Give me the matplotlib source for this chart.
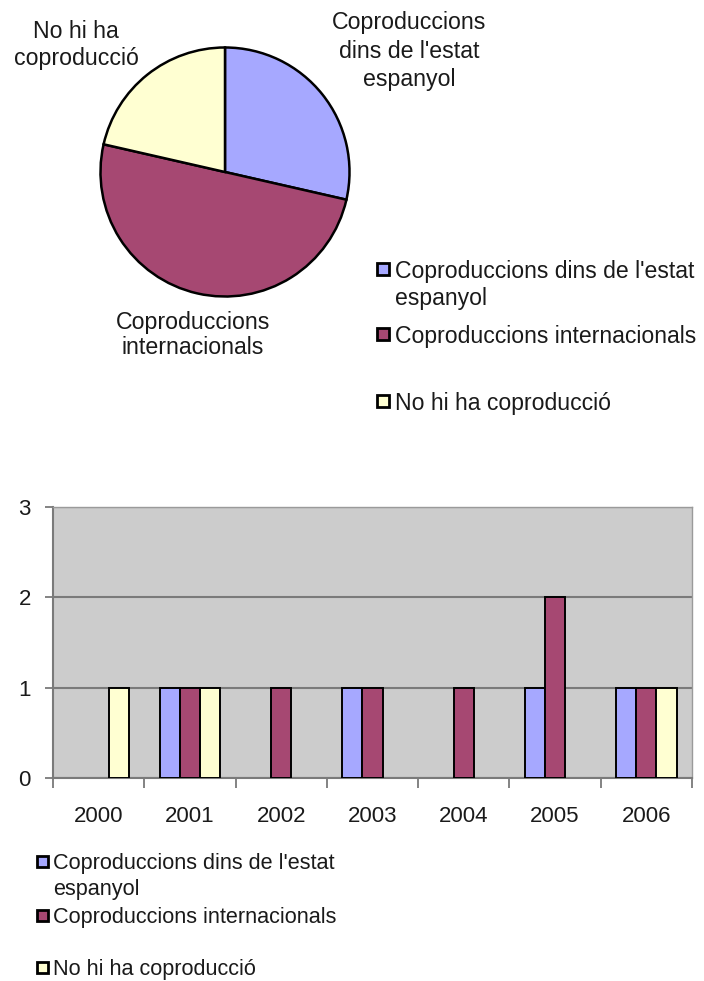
import matplotlib
matplotlib.use("Agg")
import matplotlib.pyplot as plt
from matplotlib.patches import Rectangle
import numpy as np

plt.rcParams['font.family'] = ['Liberation Sans', 'DejaVu Sans']

series = ["Coproduccions dins de l'estat\nespanyol", "Coproduccions internacionals", "No hi ha coproducció"]
pie_labels = ["Coproduccions\ndins de l'estat\nespanyol", "Coproduccions\ninternacionals", "No hi ha\ncoproducció"]
years = ["2000", "2001", "2002", "2003", "2004", "2005", "2006"]
estat = [0, 1, 0, 1, 0, 1, 1]
internacionals = [0, 1, 1, 1, 1, 2, 1]
no_coprod = [1, 1, 0, 0, 0, 0, 1]
yticks = [0, 1, 2, 3]
colors = ['#A6A8FF', '#A64872', '#FFFFD2']

W, H = 704, 981
fig = plt.figure(figsize=(W / 100, H / 100), dpi=100)
fig.patch.set_facecolor('white')
txtc = '#1a1a1a'

def fx(px):
    return px / W

def fy(py):
    return 1 - py / H

# ---------------- pie ----------------
totals = [sum(estat), sum(internacionals), sum(no_coprod)]
cx, cy, r = 225, 172, 127
axp = fig.add_axes([fx(cx - r), fy(cy + r), 2 * r / W, 2 * r / H])
axp.pie(totals, colors=colors, startangle=90, counterclock=False,
        wedgeprops=dict(edgecolor='black', linewidth=1.8))
axp.set_xlim(-1.02, 1.02)
axp.set_ylim(-1.02, 1.02)
axp.set_aspect('equal')
axp.axis('off')

fs_pie = 16.7
fig.text(fx(409), fy(51), pie_labels[0], ha='center', va='center', fontsize=fs_pie,
         color=txtc, linespacing=1.28)
fig.text(fx(193), fy(335), pie_labels[1], ha='center', va='center', fontsize=fs_pie,
         color=txtc, linespacing=1.15)
fig.text(fx(76), fy(45), pie_labels[2], ha='center', va='center', fontsize=fs_pie,
         color=txtc, linespacing=1.22)

# legends
def legend_entry(xm, xt, ycenter, label, color, fs, ls, s=12):
    fig.patches.append(Rectangle((fx(xm), fy(ycenter + s / 2)), s / W, s / H,
                                 transform=fig.transFigure, facecolor=color,
                                 edgecolor='black', linewidth=2.0))
    fig.text(fx(xt), fy(ycenter), label.split('\n')[0], ha='left', va='center_baseline',
             fontsize=fs, color=txtc)
    for k, extra in enumerate(label.split('\n')[1:]):
        fig.text(fx(xt), fy(ycenter + ls * (k + 1)), extra, ha='left',
                 va='center_baseline', fontsize=fs, color=txtc)

fs_leg1 = 16.6
pie_leg_y = [269, 334, 401]
for lab, col, yy in zip(series, colors, pie_leg_y):
    legend_entry(377, 395, yy, lab, col, fs_leg1, 27)

# ---------------- bar chart ----------------
axb = fig.add_axes([fx(53), fy(778), fx(692) - fx(53), fy(507) - fy(778)])
axb.set_facecolor('#CCCCCC')
x = np.arange(len(years))
w = 0.222
for i, (vals, col) in enumerate(zip([estat, internacionals, no_coprod], colors)):
    vals = np.array(vals, dtype=float)
    mask = vals > 0
    axb.bar(x[mask] + (i - 1) * w, vals[mask], width=w, color=col,
            edgecolor='black', linewidth=1.4, zorder=3)
axb.set_xlim(-0.5, len(years) - 0.5)
axb.set_ylim(0, 3)
axb.set_yticks(yticks)
axb.set_yticklabels([str(v) for v in yticks], fontsize=16, color=txtc)
axb.yaxis.grid(True, color='#7a7a7a', linewidth=1.5, zorder=1)
axb.set_axisbelow(True)
axb.set_xticks(np.arange(-0.5, len(years), 1.0))
axb.set_xticklabels([])
axb.set_xticks(x, minor=True)
axb.set_xticklabels(years, minor=True, fontsize=16, color=txtc)
axb.tick_params(axis='x', which='major', length=7, width=1.3, color='#7a7a7a')
axb.tick_params(axis='x', which='minor', length=0, pad=20)
axb.tick_params(axis='y', length=6, width=1.3, color='#7a7a7a', pad=10)
for side in ['left', 'bottom']:
    axb.spines[side].set_color('#7a7a7a')
    axb.spines[side].set_linewidth(1.5)
for side in ['top', 'right']:
    axb.spines[side].set_color('#9a9a9a')
    axb.spines[side].set_linewidth(1.0)

fs_leg2 = 15.6
bar_leg_y = [861, 915, 967]
for lab, col, yy in zip(series, colors, bar_leg_y):
    legend_entry(37, 53, yy, lab, col, fs_leg2, 26, s=11)

fig.savefig('out.png', dpi=100)
